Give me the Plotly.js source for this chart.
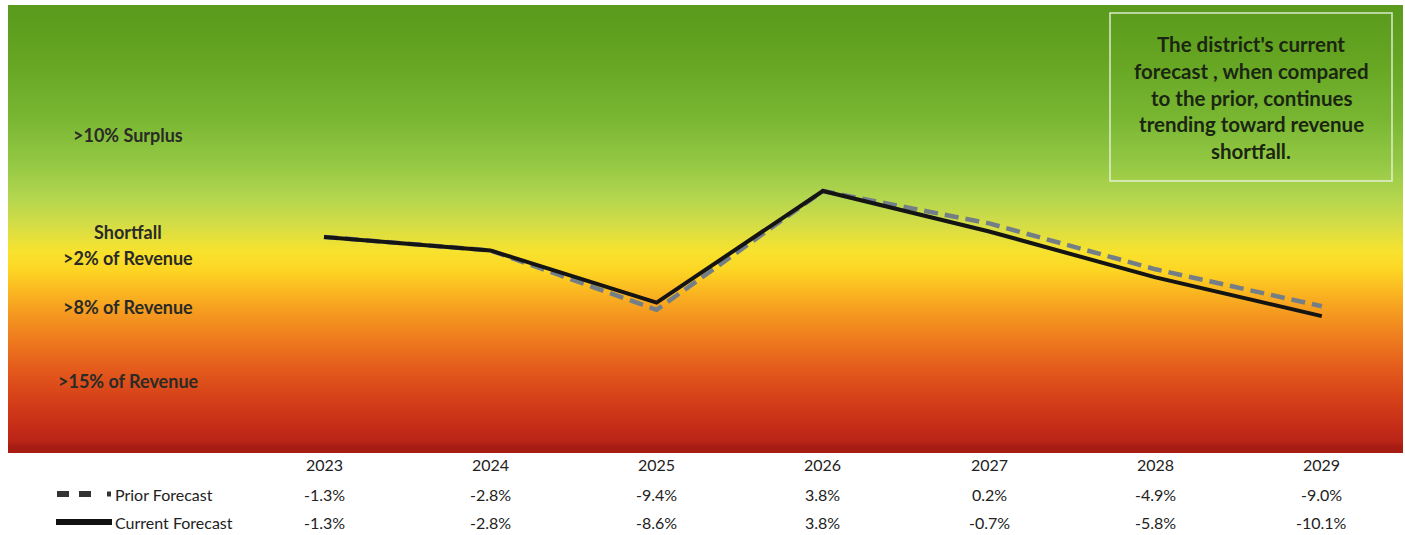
<!DOCTYPE html>
<html>
<head>
<meta charset="utf-8">
<script src="https://cdn.plot.ly/plotly-3.0.1.min.js"></script>
<style>
  html, body { margin: 0; padding: 0; background: #ffffff; }
  #chart { width: 1405px; height: 535px; }
</style>
</head>
<body>
<div id="chart"></div>
<script>
// Forecast years and projected operating result as % of revenue
var years = ['2023', '2024', '2025', '2026', '2027', '2028', '2029'];
var priorForecast = [-1.3, -2.8, -9.4, 3.8, 0.2, -4.9, -9.0];
var currentForecast = [-1.3, -2.8, -8.6, 3.8, -0.7, -5.8, -10.1];
var seriesNames = ['Prior Forecast', 'Current Forecast'];

// Zone labels down the left side of the band
var zoneLabels = ['>10% Surplus', 'Shortfall', '>2% of Revenue', '>8% of Revenue', '>15% of Revenue'];
var noteLines = ["The district's current", 'forecast , when compared', 'to the prior, continues',
                 'trending toward revenue', 'shortfall.'];

// ---- page geometry (pixels) ----
var W = 1405, H = 535;
var M = { l: 8, r: 2, t: 5, b: 82 };
var plotW = W - M.l - M.r, plotH = H - M.t - M.b;
function px(x) { return (x - M.l) / plotW; }        // page x -> paper x
function py(y) { return (H - M.b - y) / plotH; }    // page y -> paper y

// Green-to-red background band painted on a canvas
function bandImage() {
  var c = document.createElement('canvas');
  c.width = plotW; c.height = plotH;
  var g = c.getContext('2d');
  var grad = g.createLinearGradient(0, 0, 0, plotH);
  var stops = [
    [0.00, '#5a9a1c'], [0.12, '#65a522'], [0.25, '#78b632'], [0.36, '#96c945'],
    [0.43, '#b3d64e'], [0.49, '#d4dd46'], [0.55, '#f7e22e'], [0.59, '#fdd724'],
    [0.63, '#fbbd21'], [0.68, '#f69e20'], [0.74, '#ef7e1e'], [0.81, '#e45c1c'],
    [0.88, '#d64019'], [0.94, '#c62d17'], [0.975, '#b82416'], [0.985, '#a61c12'],
    [1.00, '#a81e14']
  ];
  stops.forEach(function (s) { grad.addColorStop(s[0], s[1]); });
  g.fillStyle = grad;
  g.fillRect(0, 0, plotW, plotH);
  return c.toDataURL('image/png');
}

var xIdx = years.map(function (_, i) { return i; });

var traces = [
  {
    x: xIdx, y: priorForecast, name: seriesNames[0], type: 'scatter', mode: 'lines',
    line: { color: '#737e87', width: 4.5, dash: '14px,7px' },
    showlegend: false, hoverinfo: 'skip'
  },
  {
    x: xIdx, y: currentForecast, name: seriesNames[1], type: 'scatter', mode: 'lines',
    line: { color: '#141414', width: 4 },
    showlegend: false, hoverinfo: 'skip'
  }
];

var FONT = 'Lato, "Open Sans", sans-serif';
var annotations = [];

// zone labels
var zonePos = [[128, 135], [128, 232], [128, 258], [128, 307], [128, 381]];
zoneLabels.forEach(function (t, i) {
  annotations.push({
    xref: 'paper', yref: 'paper', x: px(zonePos[i][0]), y: py(zonePos[i][1]),
    xanchor: 'center', yanchor: 'middle', showarrow: false,
    text: '<b>' + t + '</b>', font: { family: FONT, size: 18, color: '#2a2a26' }
  });
});

// note box text
noteLines.forEach(function (t, i) {
  annotations.push({
    xref: 'paper', yref: 'paper', x: px(1251), y: py(44 + i * 26.8),
    xanchor: 'center', yanchor: 'middle', showarrow: false,
    text: '<b>' + t + '</b>', font: { family: FONT, size: 20.5, color: '#1b2612' }
  });
});

// data table under the chart
var tableFont = { family: FONT, size: 16, color: '#222222' };
function pct(v) { return v.toFixed(1) + '%'; }
years.forEach(function (yr, i) {
  annotations.push({ xref: 'x', yref: 'paper', x: i, y: py(465), xanchor: 'center', yanchor: 'middle',
    showarrow: false, text: yr, font: tableFont });
  annotations.push({ xref: 'x', yref: 'paper', x: i, y: py(494), xanchor: 'center', yanchor: 'middle',
    showarrow: false, text: pct(priorForecast[i]), font: tableFont });
  annotations.push({ xref: 'x', yref: 'paper', x: i, y: py(522), xanchor: 'center', yanchor: 'middle',
    showarrow: false, text: pct(currentForecast[i]), font: tableFont });
});
annotations.push({ xref: 'paper', yref: 'paper', x: px(113), y: py(494), xanchor: 'left', yanchor: 'middle',
  showarrow: false, text: seriesNames[0], font: tableFont });
annotations.push({ xref: 'paper', yref: 'paper', x: px(113), y: py(522), xanchor: 'left', yanchor: 'middle',
  showarrow: false, text: seriesNames[1], font: tableFont });

var shapes = [
  // note box outline
  { type: 'rect', xref: 'paper', yref: 'paper', x0: px(1110), x1: px(1392), y0: py(181), y1: py(13),
    line: { color: 'rgba(235,242,225,0.9)', width: 1.5 }, fillcolor: 'rgba(0,0,0,0)' },
  // table key: prior (dashes)
  { type: 'line', xref: 'paper', yref: 'paper', x0: px(57), x1: px(69), y0: py(494), y1: py(494),
    line: { color: '#333333', width: 6 } },
  { type: 'line', xref: 'paper', yref: 'paper', x0: px(79), x1: px(91), y0: py(494), y1: py(494),
    line: { color: '#333333', width: 6 } },
  { type: 'line', xref: 'paper', yref: 'paper', x0: px(107), x1: px(111), y0: py(494), y1: py(494),
    line: { color: '#333333', width: 5 } },
  // table key: current (solid)
  { type: 'line', xref: 'paper', yref: 'paper', x0: px(56), x1: px(112), y0: py(522), y1: py(522),
    line: { color: '#111111', width: 6 } }
];

var x0px = 324, stepPx = 166.3;
var yZeroPx = 225.2, pxPerPct = 9.0;

var layout = {
  width: W, height: H,
  margin: M,
  paper_bgcolor: '#ffffff',
  plot_bgcolor: 'rgba(0,0,0,0)',
  showlegend: false,
  xaxis: {
    range: [(M.l - x0px) / stepPx, (W - M.r - x0px) / stepPx],
    showgrid: false, zeroline: false, showticklabels: false, ticks: '', showline: false, fixedrange: true
  },
  yaxis: {
    range: [-(H - M.b - yZeroPx) / pxPerPct, (yZeroPx - M.t) / pxPerPct],
    showgrid: false, zeroline: false, showticklabels: false, ticks: '', showline: false, fixedrange: true
  },
  images: [{
    source: bandImage(), xref: 'paper', yref: 'paper', x: 0, y: 1, sizex: 1, sizey: 1,
    xanchor: 'left', yanchor: 'top', sizing: 'stretch', layer: 'below'
  }],
  annotations: annotations,
  shapes: shapes
};

Plotly.newPlot('chart', traces, layout, { staticPlot: true, displayModeBar: false });
</script>
</body>
</html>
